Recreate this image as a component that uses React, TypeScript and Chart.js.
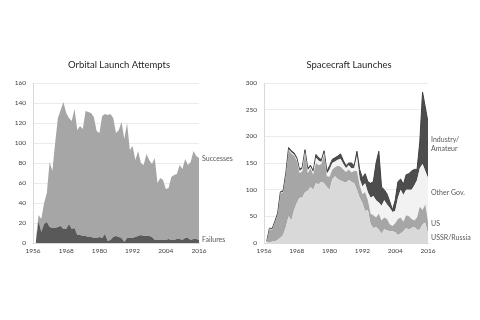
import React, { useEffect, useRef } from "react";
import { Chart, registerables } from "chart.js";

Chart.register(...registerables);

// ---------- data ----------
const years = [
  1957, 1958, 1959, 1960, 1961, 1962, 1963, 1964, 1965, 1966,
  1967, 1968, 1969, 1970, 1971, 1972, 1973, 1974, 1975, 1976,
  1977, 1978, 1979, 1980, 1981, 1982, 1983, 1984, 1985, 1986,
  1987, 1988, 1989, 1990, 1991, 1992, 1993, 1994, 1995, 1996,
  1997, 1998, 1999, 2000, 2001, 2002, 2003, 2004, 2005, 2006,
  2007, 2008, 2009, 2010, 2011, 2012, 2013, 2014, 2015, 2016,
];

const xTickYears = [1956, 1968, 1980, 1992, 2004, 2016];

// Orbital launch attempts
const launchFailures = [
  1, 22, 11, 19, 21, 16, 15, 15, 16, 17,
  14, 14, 19, 14, 15, 8, 8, 7, 7, 6,
  6, 5, 5, 6, 5, 9, 2, 3, 6, 7,
  6, 5, 1, 5, 5, 5, 6, 7, 8, 7,
  7, 7, 6, 3, 3, 3, 3, 3, 4, 3,
  3, 4, 4, 3, 5, 5, 3, 4, 4, 3,
];
const launchSuccesses = [
  2, 6, 13, 21, 29, 65, 57, 85, 109, 116,
  127, 116, 106, 108, 119, 105, 109, 107, 125, 125,
  124, 121, 107, 104, 122, 120, 126, 126, 119, 103,
  107, 116, 103, 115, 88, 92, 77, 85, 72, 71,
  82, 76, 73, 82, 57, 62, 60, 51, 51, 63,
  65, 65, 74, 71, 79, 73, 78, 88, 83, 82,
];

// Spacecraft launches
const ussrRussia = [
  2, 1, 3, 3, 6, 10, 15, 30, 50, 42,
  62, 75, 85, 85, 95, 98, 105, 100, 112, 110,
  115, 112, 105, 100, 120, 125, 120, 117, 115, 113,
  118, 115, 112, 100, 85, 75, 60, 62, 35, 28,
  30, 25, 18, 26, 24, 22, 22, 20, 15, 18,
  22, 28, 25, 28, 30, 25, 25, 35, 38, 18,
];
const usSpacecraft = [
  1, 25, 22, 35, 47, 83, 80, 99, 125, 126,
  102, 79, 46, 49, 71, 33, 35, 28, 38, 36,
  33, 53, 20, 24, 18, 17, 25, 26, 23, 20,
  20, 17, 23, 35, 23, 17, 35, 18, 20, 24,
  18, 30, 24, 22, 21, 13, 10, 17, 30, 30,
  18, 24, 25, 17, 12, 23, 43, 27, 34, 22,
];
const otherGov = [
  0, 1, 1, 1, 1, 1, 1, 1, 1, 2,
  2, 3, 4, 5, 5, 5, 3, 4, 10, 8,
  4, 4, 5, 14, 12, 11, 11, 15, 10, 7,
  8, 8, 5, 28, 12, 14, 17, 15, 30, 36,
  32, 21, 28, 32, 27, 31, 26, 23, 40, 52,
  50, 48, 50, 55, 66, 70, 72, 86, 63, 82,
];
const industryAmateur = [
  0, 1, 1, 2, 2, 2, 2, 2, 3, 3,
  3, 3, 3, 3, 4, 4, 3, 3, 6, 6,
  4, 4, 4, 7, 7, 7, 7, 9, 7, 5,
  4, 10, 5, 9, 18, 16, 18, 20, 27, 27,
  70, 96, 35, 20, 20, 12, 4, 20, 30, 20,
  20, 28, 30, 35, 30, 20, 50, 135, 120, 104,
];

// ---------- helpers ----------
const FONT = "Lato, 'Open Sans', 'DejaVu Sans', sans-serif";
const TEXT = "#595959";

const pts = (vals: number[]) => years.map((y, i) => ({ x: y, y: vals[i] }));

type SideLabel = { lines: string[]; y: number };

function makeConfig(opts: {
  title: string;
  titleX: number;
  yMax: number;
  yStep: number;
  datasets: any[];
  labels: SideLabel[];
  areaLeft: number;
  padRight: number;
}) {
  const labelPlugin = {
    id: "sideLabels",
    afterDraw(chart: any) {
      const ctx = chart.ctx;
      const area = chart.chartArea;
      ctx.save();
      ctx.fillStyle = "#262626";
      ctx.font = `9.5px ${FONT}`;
      ctx.textAlign = "center";
      ctx.textBaseline = "middle";
      ctx.fillText(opts.title, opts.titleX, 65);
      ctx.fillStyle = TEXT;
      ctx.font = `7px ${FONT}`;
      ctx.textAlign = "left";
      for (const l of opts.labels) {
        l.lines.forEach((t, i) => {
          ctx.fillText(t, area.right + 3, l.y + i * 9);
        });
      }
      ctx.restore();
    },
  };

  return {
    type: "line" as const,
    data: { datasets: opts.datasets },
    options: {
      animation: false as const,
      responsive: false,
      devicePixelRatio: 1,
      layout: { padding: { left: 0, right: opts.padRight, top: 83, bottom: 0 } },
      plugins: { legend: { display: false }, tooltip: { enabled: false }, title: { display: false } },
      elements: { point: { radius: 0 }, line: { tension: 0 } },
      scales: {
        x: {
          type: "linear" as const,
          min: 1956,
          max: 2016,
          afterBuildTicks: (scale: any) => {
            scale.ticks = xTickYears.map((v) => ({ value: v }));
          },
          afterFit: (scale: any) => {
            scale.height = 77;
          },
          grid: { display: false, drawTicks: false },
          border: { display: true, color: "#d9d9d9" },
          ticks: {
            color: "#404040",
            font: { family: FONT, size: 6.5 },
            padding: 4,
            maxRotation: 0,
            autoSkip: false,
            callback: (v: any) => String(v),
          },
        },
        y: {
          stacked: true,
          min: 0,
          max: opts.yMax,
          afterFit: (scale: any) => {
            scale.width = opts.areaLeft;
          },
          grid: { color: "#ebebeb", drawTicks: false, lineWidth: 1 },
          border: { display: true, color: "#d9d9d9" },
          ticks: {
            stepSize: opts.yStep,
            color: "#404040",
            font: { family: FONT, size: 6.5 },
            padding: 7,
          },
        },
      },
    },
    plugins: [labelPlugin],
  };
}

function ChartCanvas({ config, left }: { config: any; left: number }) {
  const ref = useRef<HTMLCanvasElement | null>(null);
  useEffect(() => {
    if (!ref.current) return;
    const chart = new Chart(ref.current, config);
    return () => chart.destroy();
  }, [config]);
  return (
    <canvas
      ref={ref}
      width={240}
      height={320}
      style={{ position: "absolute", left, top: 0, width: 240, height: 320 }}
    />
  );
}

const area = (label: string, vals: number[], color: string, fill: any, border = 0, borderColor = color) => ({
  label,
  data: pts(vals),
  backgroundColor: color,
  borderColor,
  borderWidth: border,
  fill,
  pointRadius: 0,
});

const leftConfig = makeConfig({
  title: "Orbital Launch Attempts",
  titleX: 119,
  yMax: 160,
  yStep: 20,
  areaLeft: 33,
  padRight: 41,
  datasets: [
    area("Failures", launchFailures, "#595959", "origin"),
    area("Successes", launchSuccesses, "#a6a6a6", "-1"),
  ],
  labels: [
    { lines: ["Successes"], y: 159 },
    { lines: ["Failures"], y: 240 },
  ],
});

const rightConfig = makeConfig({
  title: "Spacecraft Launches",
  titleX: 109,
  yMax: 300,
  yStep: 50,
  areaLeft: 24,
  padRight: 52,
  datasets: [
    area("USSR/Russia", ussrRussia, "#d9d9d9", "origin"),
    area("US", usSpacecraft, "#a6a6a6", "-1"),
    area("Other Gov.", otherGov, "#f2f2f2", "-1"),
    area("Industry/Amateur", industryAmateur, "#4d4d4d", "-1", 1, "#404040"),
  ],
  labels: [
    { lines: ["Industry/", "Amateur"], y: 140 },
    { lines: ["Other Gov."], y: 193 },
    { lines: ["US"], y: 224 },
    { lines: ["USSR/Russia"], y: 238 },
  ],
});

export default function App() {
  return (
    <div style={{ position: "fixed", left: 0, top: 0, width: 480, height: 320, background: "#ffffff" }}>
      <ChartCanvas config={leftConfig} left={0} />
      <ChartCanvas config={rightConfig} left={240} />
    </div>
  );
}
